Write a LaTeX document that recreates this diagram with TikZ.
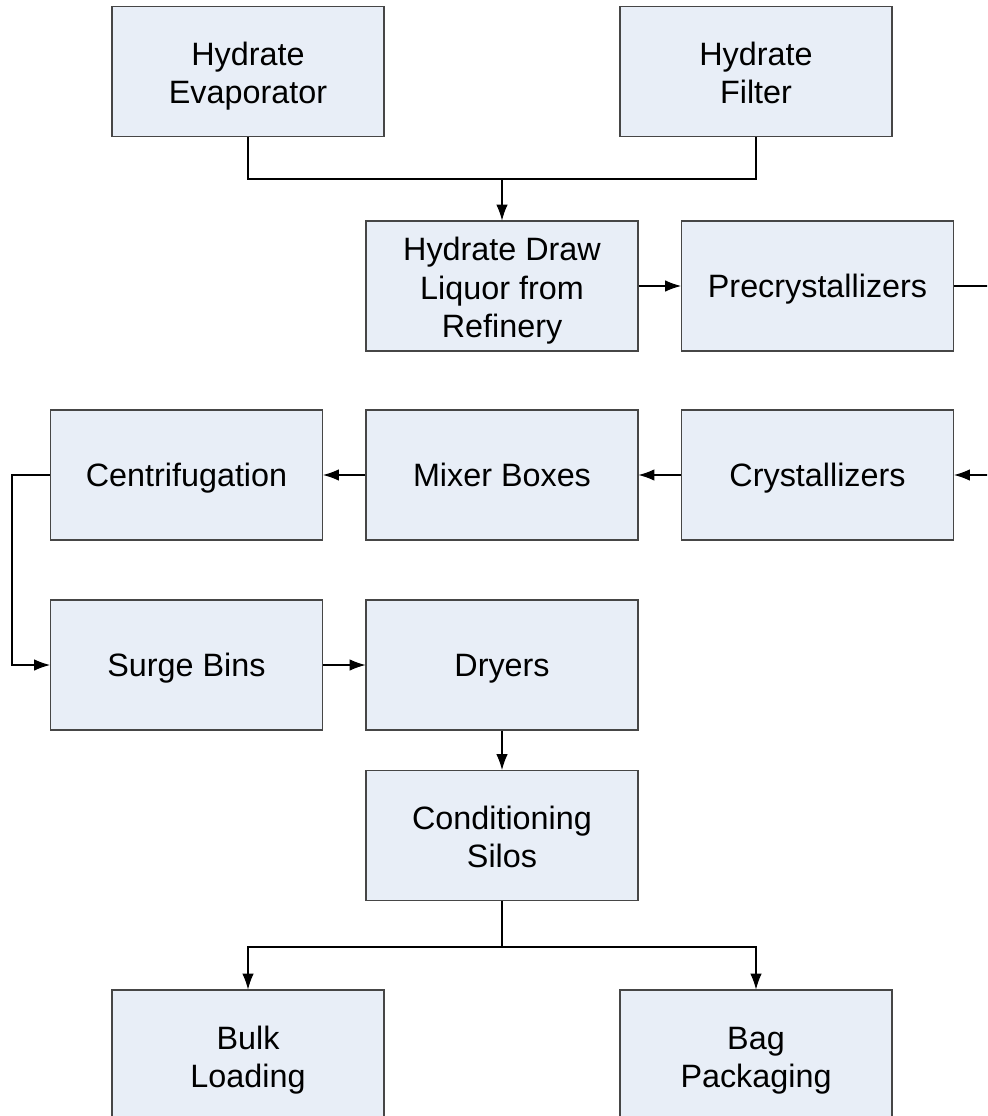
\documentclass[tikz,border=0pt]{standalone}
\usepackage{fontspec}
\setmainfont{Liberation Sans}
\usetikzlibrary{arrows.meta}

\definecolor{boxfill}{RGB}{232,238,247}
\definecolor{boxline}{RGB}{70,70,70}
\newcommand\rowstrut{\rule[-4pt]{0pt}{21.2pt}}
\newcommand\tallstrut{\rule{0pt}{19pt}}

\begin{document}
\begin{tikzpicture}[>={Latex[length=9pt,width=6.5pt]}, line width=0.6pt,
  unit/.style={fill=boxfill, draw=boxline, minimum width=5.44cm, minimum height=2.6cm, inner ysep=1pt, align=center,
    font=\fontsize{18.4}{21.8}\selectfont, execute at begin node=\rowstrut, execute at end node=\rowstrut}]
\useasboundingbox (0,0) rectangle (19.74,-22.32);
\clip (0,0) rectangle (19.74,-22.32);

\node (evap) at (4.96,-1.43) [unit]{\tallstrut Hydrate\\Evaporator};
\node (filter) at (15.12,-1.43) [unit]{\tallstrut Hydrate\\Filter};

\node (draw) at (10.04,-5.72) [unit]{\tallstrut Hydrate Draw\\Liquor from\\Refinery};
\node (precryst) at (16.35,-5.72) [unit]{Precrystallizers};

\node (centrif) at (3.73,-9.5) [unit]{Centrifugation};
\node (mixer) at (10.04,-9.5) [unit]{Mixer Boxes};
\node (cryst) at (16.35,-9.5) [unit]{Crystallizers};

\node (surge) at (3.73,-13.3) [unit]{Surge Bins};
\node (dryers) at (10.04,-13.3) [unit]{Dryers};

\node (cond) at (10.04,-16.71) [unit]{\tallstrut Conditioning\\Silos};

\node (bulk) at (4.96,-21.1) [unit]{\tallstrut Bulk\\Loading};
\node (bag) at (15.12,-21.1) [unit]{\tallstrut Bag\\Packaging};

\coordinate (join) at (10.04,-3.58);
\coordinate (split) at (10.04,-18.94);

\draw (evap.south) |- (join) -| (filter.south);
\draw [->] (join) -- (draw.north);
\draw [->] (draw) -- (precryst);

% loop round the right edge
\draw [->] (precryst.east) -- ++(1.2,0) |- (cryst.east);
\draw [->] (cryst) -- (mixer);
\draw [->] (mixer) -- (centrif);

\draw [->] (centrif.west) -- ++(-0.76,0) |- (surge.west);
\draw [->] (surge) -- (dryers);
\draw [->] (dryers) -- (cond);

\draw (cond.south) -- (split);
\draw [->] (split) -| (bulk.north);
\draw [->] (split) -| (bag.north);

\end{tikzpicture}
\end{document}
